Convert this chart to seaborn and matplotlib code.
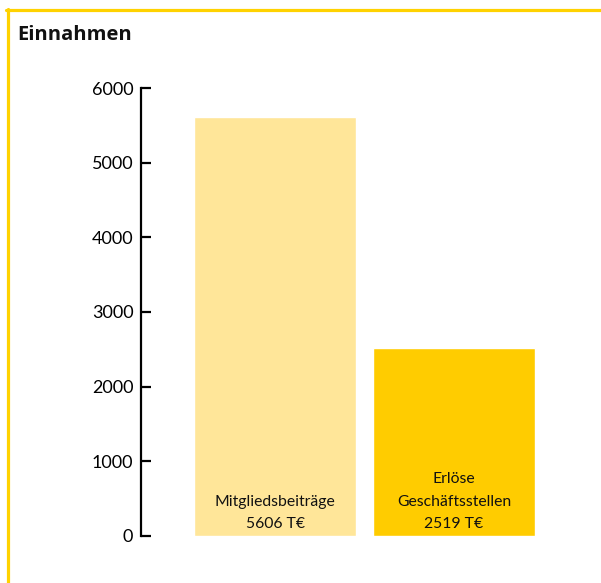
import matplotlib
matplotlib.use("Agg")
import matplotlib.pyplot as plt
from matplotlib.lines import Line2D
import seaborn as sns
import pandas as pd

categories = ["Mitgliedsbeiträge", "Erlöse Geschäftsstellen"]
values = [5606, 2519]
bar_labels = ["Mitgliedsbeiträge\n5606 T€", "Erlöse\nGeschäftsstellen\n2519 T€"]
yticks = [0, 1000, 2000, 3000, 4000, 5000, 6000]
title = "Einnahmen"
colors = ["#FFE699", "#FFCC00"]

sns.set_theme(style="white")
plt.rcParams["font.family"] = ["Lato", "DejaVu Sans"]

W, H = 601, 583
fig = plt.figure(figsize=(W / 100, H / 100), dpi=100)
ax = fig.add_axes([141 / W, (H - 536) / H, (565 - 141) / W, 448 / H])

df = pd.DataFrame({"cat": categories, "val": values})
sns.barplot(data=df, x="cat", y="val", hue="cat", palette=colors,
            width=0.905, saturation=1, legend=False, ax=ax)

ax.set_xlim(-0.749, (565 - 275) / 179)
ax.set_ylim(0, 6000)
ax.set_yticks(yticks)
ax.set_yticklabels([str(t) for t in yticks])
ax.set_xticks([])
ax.set_xlabel("")
ax.set_ylabel("")
for s in ["top", "right", "bottom"]:
    ax.spines[s].set_visible(False)
ax.spines["left"].set_color("black")
ax.spines["left"].set_linewidth(1.6)
ax.tick_params(axis="y", direction="in", length=7.5, width=1.6, pad=5.5,
               labelsize=13, colors="black", left=True)

for i, lab in enumerate(bar_labels):
    ax.text(i, 110, lab, ha="center", va="baseline", fontsize=11.3,
            linespacing=1.75, color="#111111")

fig.text(17 / W, 1 - 35 / H, title, fontsize=14.5, fontweight="bold",
         va="center", ha="left", color="#111111",
         family=["Open Sans", "DejaVu Sans"])

border = "#FFD200"
fig.add_artist(Line2D([6 / W, 1], [1 - 10 / H, 1 - 10 / H], color=border,
                      linewidth=2.3, transform=fig.transFigure))
fig.add_artist(Line2D([7.5 / W, 7.5 / W], [0, 1 - 9 / H], color=border,
                      linewidth=2.3, transform=fig.transFigure))

fig.savefig("out.png", dpi=100)
